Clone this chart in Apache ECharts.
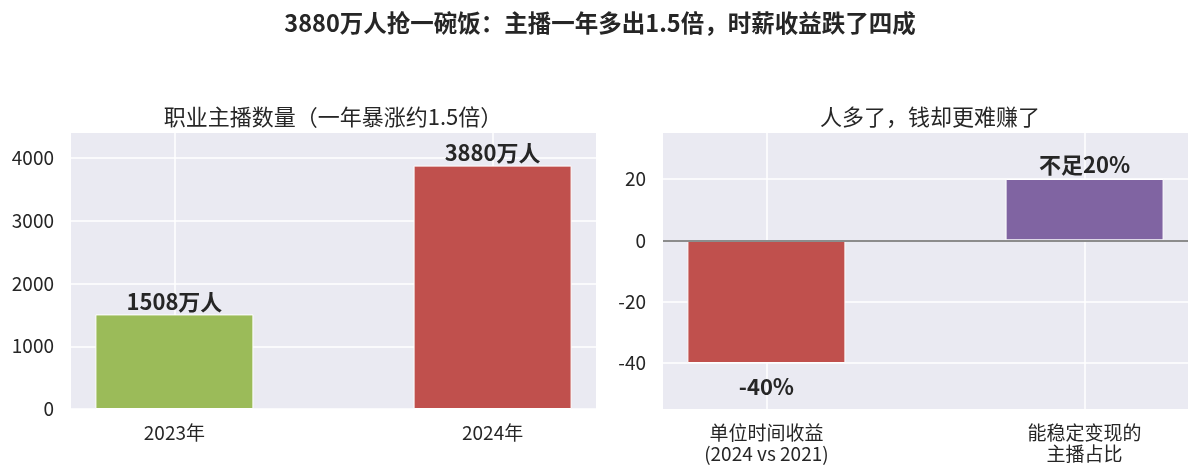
<!DOCTYPE html>
<html>
<head>
<meta charset="utf-8">
<script src="https://cdn.jsdelivr.net/npm/echarts@6/dist/echarts.min.js"></script>
<style>
  html, body { margin: 0; padding: 0; background: #fff; }
  #chart { width: 1200px; height: 476px; }
</style>
</head>
<body>
<div id="chart"></div>
<script>
// left panel
const leftCats = ['2023年', '2024年']
const leftValues = [1508, 3880]
const leftLabels = ['1508万人', '3880万人']
const leftTicks = [0, 1000, 2000, 3000, 4000]

// right panel
const rightCats = ['单位时间收益\n(2024 vs 2021)', '能稳定变现的\n主播占比']
const rightValues = [-40, 20]
const rightLabels = ['-40%', '不足20%']
const rightTicks = [-40, -20, 0, 20]

const leftColors = ['#9BBB59', '#C0504D']
const rightColors = ['#C0504D', '#8064A2']

const font = '"Noto Sans CJK SC", "Noto Sans", sans-serif'
const textColor = '#262626'

function xAxisFor(gridIndex, cats) {
  return {
    type: 'value', gridIndex, min: -0.325, max: 1.325,
    axisLine: { show: false },
    axisTick: { show: false, customValues: [0, 1] },
    splitLine: { show: true, lineStyle: { color: '#fff', width: 1.5 } },
    axisLabel: {
      customValues: [0, 1],
      formatter: v => cats[Math.round(v)] || '',
      color: textColor, fontSize: 19, fontFamily: font,
      margin: 13, lineHeight: 21
    }
  }
}

function yAxisFor(gridIndex, min, max, ticks) {
  return {
    type: 'value', gridIndex, min, max,
    axisLine: { show: false },
    axisTick: { show: false, customValues: ticks },
    splitLine: { show: true, lineStyle: { color: '#fff', width: 1.5 } },
    axisLabel: {
      customValues: ticks,
      formatter: v => String(v),
      color: textColor, fontSize: 19, fontFamily: font, margin: 17
    }
  }
}

const chart = echarts.init(document.getElementById('chart'))
chart.setOption({
  animation: false,
  title: [
    {
      text: '3880万人抢一碗饭：主播一年多出1.5倍，时薪收益跌了四成',
      left: 'center', top: 6,
      textStyle: { fontSize: 23.5, fontWeight: 'bold', color: textColor, fontFamily: font }
    },
    {
      text: '职业主播数量（一年暴涨约1.5倍）',
      left: 328, top: 101, textAlign: 'center',
      textStyle: { fontSize: 22, fontWeight: 'normal', color: textColor, fontFamily: font }
    },
    {
      text: '人多了，钱却更难赚了',
      left: 925, top: 101, textAlign: 'center',
      textStyle: { fontSize: 22, fontWeight: 'normal', color: textColor, fontFamily: font }
    }
  ],
  grid: [
    { left: 71, top: 133, width: 525, height: 276, show: true, backgroundColor: '#EAEAF2', borderWidth: 0 },
    { left: 663, top: 133, width: 525, height: 276, show: true, backgroundColor: '#EAEAF2', borderWidth: 0 }
  ],
  xAxis: [xAxisFor(0, leftCats), xAxisFor(1, rightCats)],
  yAxis: [yAxisFor(0, 0, 4400, leftTicks), yAxisFor(1, -55, 35, rightTicks)],
  series: [
    {
      type: 'bar', xAxisIndex: 0, yAxisIndex: 0, barWidth: 158,
      data: leftValues.map((v, i) => ({
        value: [i, v],
        itemStyle: { color: leftColors[i], borderColor: '#fff', borderWidth: 1 }
      })),
      label: {
        show: true, position: 'top', distance: 2,
        formatter: p => leftLabels[p.dataIndex],
        fontSize: 22, fontWeight: 'bold', color: textColor, fontFamily: font
      }
    },
    {
      type: 'bar', xAxisIndex: 1, yAxisIndex: 1, barWidth: 158,
      data: rightValues.map((v, i) => ({
        value: [i, v],
        itemStyle: { color: rightColors[i], borderColor: '#fff', borderWidth: 1 },
        label: v < 0 ? { position: 'bottom', distance: 13 } : { position: 'top', distance: 3 }
      })),
      label: {
        show: true,
        formatter: p => rightLabels[p.dataIndex],
        fontSize: 22, fontWeight: 'bold', color: textColor, fontFamily: font
      },
      markLine: {
        silent: true, symbol: 'none', label: { show: false },
        lineStyle: { color: '#8c8c8c', width: 2, type: 'solid' },
        data: [{ yAxis: 0 }]
      }
    }
  ]
})
</script>
</body>
</html>
